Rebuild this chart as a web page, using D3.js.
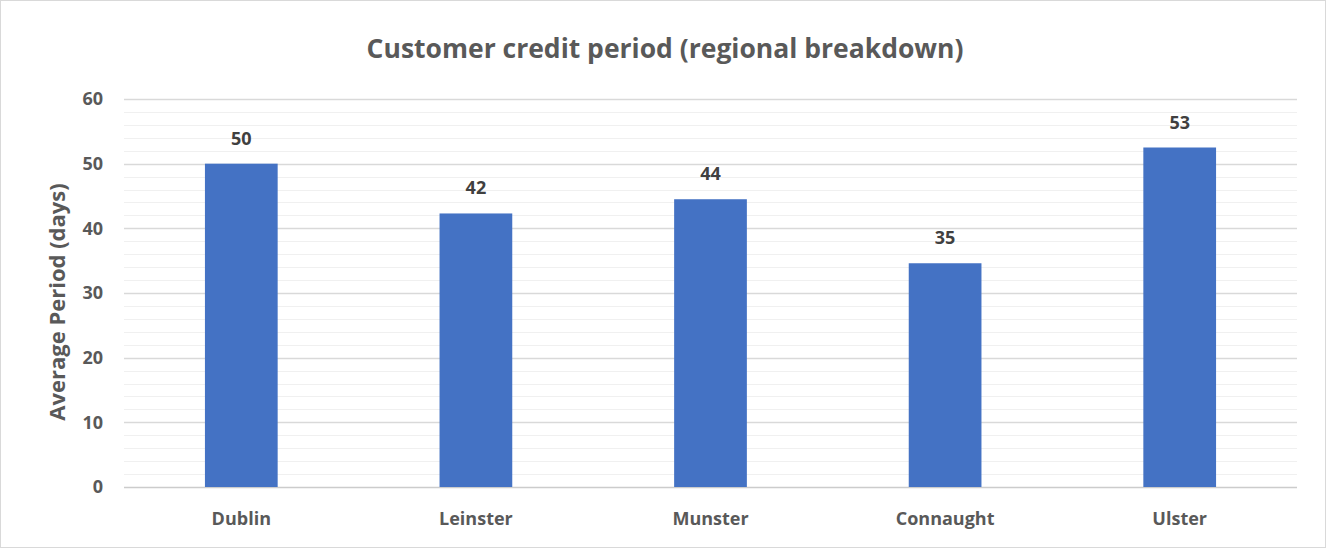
<!DOCTYPE html>
<html lang="en">
<head>
<meta charset="UTF-8">
<title>Customer credit period</title>
<script src="https://d3js.org/d3.v7.min.js"></script>
<style>
  body { margin: 0; background: #fff; }
  text { font-family: "Open Sans", "Liberation Sans", sans-serif; font-weight: bold; }
</style>
</head>
<body>
<svg id="chart" width="1326" height="548"></svg>
<script>
// chart data
var regions = ["Dublin", "Leinster", "Munster", "Connaught", "Ulster"];
var periods = [50.0, 42.3, 44.5, 34.6, 52.5];
var labels = ["50", "42", "44", "35", "53"];
var yTicks = [0, 10, 20, 30, 40, 50, 60];
var minorTicks = d3.range(0, 61, 2);

var svg = d3.select("#chart");
var plotLeft = 124, plotRight = 1297, plotTop = 99, plotBottom = 487;

// outer border
svg.append("rect")
   .attr("x", 0.5).attr("y", 0.5)
   .attr("width", 1325).attr("height", 547)
   .style("fill", "white").style("stroke", "#d9d9d9").style("stroke-width", 1);

var x = d3.scaleBand().domain(regions).range([plotLeft, plotRight]).paddingInner(0.69).paddingOuter(0.345);
var y = d3.scaleLinear().domain([0, 60]).range([plotBottom, plotTop]);

// minor gridlines
svg.append("g").selectAll("line")
   .data(minorTicks.filter(function(d){ return d % 10 != 0; }))
   .enter().append("line")
   .attr("x1", plotLeft).attr("x2", plotRight)
   .attr("y1", function(d){ return Math.round(y(d)) + 0.5; })
   .attr("y2", function(d){ return Math.round(y(d)) + 0.5; })
   .style("stroke", "#f0f0f0").style("stroke-width", 1);

// major gridlines
svg.append("g").selectAll("line")
   .data(yTicks)
   .enter().append("line")
   .attr("x1", plotLeft).attr("x2", plotRight)
   .attr("y1", function(d){ return Math.round(y(d)) + 0.5; })
   .attr("y2", function(d){ return Math.round(y(d)) + 0.5; })
   .style("stroke", function(d){ return d == 0 ? "#cccccc" : "#d9d9d9"; })
   .style("stroke-width", 1.5);

// y axis tick labels
var yAxis = d3.axisLeft(y).tickValues(yTicks).tickSize(0).tickPadding(0);
var gy = svg.append("g").attr("transform", "translate(103,0)").call(yAxis);
gy.select(".domain").remove();
gy.selectAll("text").style("font-size", "18px").style("fill", "#595959")
  .style("font-family", "'Open Sans', sans-serif").style("font-weight", "bold");

// bars
svg.append("g").selectAll("rect")
   .data(periods)
   .enter().append("rect")
   .attr("x", function(d, i){ return x(regions[i]); })
   .attr("y", function(d){ return y(d); })
   .attr("width", x.bandwidth())
   .attr("height", function(d){ return y(0) - y(d); })
   .style("fill", "#4472c4");

// value labels
svg.append("g").selectAll("text")
   .data(periods)
   .enter().append("text")
   .attr("x", function(d, i){ return x(regions[i]) + x.bandwidth() / 2; })
   .attr("y", function(d){ return y(d) - 19; })
   .attr("text-anchor", "middle")
   .style("font-size", "18px").style("fill", "#404040")
   .text(function(d, i){ return labels[i]; });

// x axis labels
var xAxis = d3.axisBottom(x).tickSize(0).tickPadding(0);
var gx = svg.append("g").attr("transform", "translate(0,512)").call(xAxis);
gx.select(".domain").remove();
gx.selectAll("text").style("font-size", "18px").style("fill", "#595959")
  .style("font-family", "'Open Sans', sans-serif").style("font-weight", "bold");

// title
svg.append("text")
   .attr("x", 665).attr("y", 58)
   .attr("text-anchor", "middle")
   .style("font-size", "26.5px").style("fill", "#595959")
   .text("Customer credit period (regional breakdown)");

// y axis title
svg.append("text")
   .attr("transform", "translate(65,302) rotate(-90)")
   .attr("text-anchor", "middle")
   .style("font-size", "22px").style("fill", "#595959")
   .text("Average Period (days)");
</script>
</body>
</html>
